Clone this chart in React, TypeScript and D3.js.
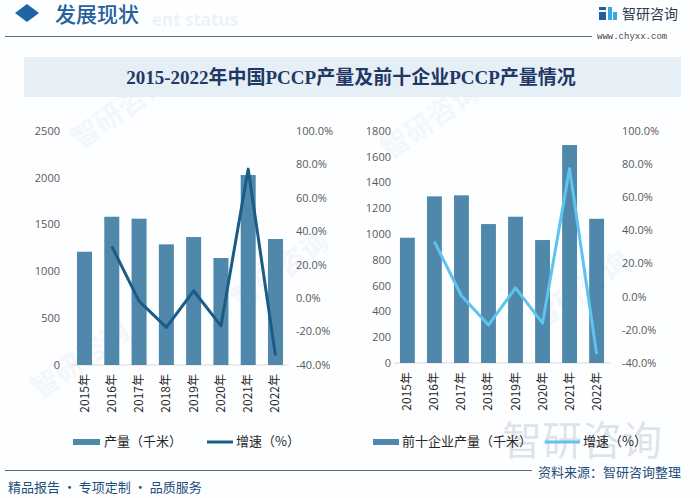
import React from "react";
import * as d3 from "d3";

const years = ["2015年", "2016年", "2017年", "2018年", "2019年", "2020年", "2021年", "2022年"];
const output = [1210, 1584, 1563, 1289, 1367, 1143, 2030, 1346];
const outputGrowth = [null, 31.0, -1.8, -17.5, 4.4, -16.6, 77.2, -34.4];
const top10Output = [972, 1293, 1301, 1078, 1135, 954, 1691, 1119];
const top10Growth = [null, 33.2, 0.6, -17.1, 5.3, -15.9, 77.3, -34.6];
const leftTicks = [0, 500, 1000, 1500, 2000, 2500];
const rightTicks = [0, 200, 400, 600, 800, 1000, 1200, 1400, 1600, 1800];
const pctTicks = [-40, -20, 0, 20, 40, 60, 80, 100];

const BAR = "#5088ab";
const CJK = "'Noto Sans CJK SC', 'Noto Sans', sans-serif";

type PanelProps = {
  x0: number; x1: number; yTop: number; yBot: number;
  values: number[]; growth: (number | null)[]; max: number; ticks: number[];
  leftLabelX: number; rightLabelX: number; lineColor: string;
};

function Panel(p: PanelProps) {
  const x = d3.scaleBand<string>().domain(years).range([p.x0, p.x1]).paddingInner(0.45).paddingOuter(0.22);
  const y = d3.scaleLinear().domain([0, p.max]).range([p.yBot, p.yTop]);
  const yp = d3.scaleLinear().domain([-40, 100]).range([p.yBot, p.yTop]);
  const pts = years.map((yr, i) => ({ yr, v: p.growth[i] })).filter(d => d.v !== null) as { yr: string; v: number }[];
  const line = d3.line<{ yr: string; v: number }>()
    .x(d => (x(d.yr) as number) + x.bandwidth() / 2)
    .y(d => yp(d.v));
  return (
    <g>
      <line x1={p.x0} x2={p.x1} y1={p.yBot} y2={p.yBot} stroke="#d9d9d9" strokeWidth={1} />
      {p.ticks.map(t => (
        <text key={"l" + t} x={p.leftLabelX} y={y(t)} dy="0.35em" textAnchor="end" fontSize={11} fill="#595959" fontFamily="'Open Sans', sans-serif">{t}</text>
      ))}
      {pctTicks.map(t => (
        <text key={"r" + t} x={p.rightLabelX} y={yp(t)} dy="0.35em" textAnchor="start" fontSize={11} fill="#595959" fontFamily="'Open Sans', sans-serif">{t.toFixed(1) + "%"}</text>
      ))}
      {years.map((yr, i) => (
        <rect key={yr} x={x(yr)} y={y(p.values[i])} width={x.bandwidth()} height={p.yBot - y(p.values[i])} fill={BAR} />
      ))}
      <path d={line(pts) || ""} fill="none" stroke={p.lineColor} strokeWidth={3} strokeLinejoin="round" />
      {years.map(yr => (
        <text key={"x" + yr} transform={`translate(${(x(yr) as number) + x.bandwidth() / 2 + 4},${p.yBot + 9}) rotate(-90)`} textAnchor="end" fontSize={12} fill="#262626" fontFamily={CJK}>{yr}</text>
      ))}
    </g>
  );
}

export default function App() {
  return (
    <svg width={700} height={498} style={{ position: "absolute", left: 0, top: 0, background: "#fff" }}>
      <rect width={700} height={498} fill="#fdfeff" />
      {/* faint watermarks */}
      {[[80, 150], [390, 160], [240, 310], [540, 330], [40, 400]].map(([wx, wy], i) => (
        <text key={i} x={wx} y={wy} transform={`rotate(-35 ${wx} ${wy})`} fontSize={28} fontWeight={700} fill="#f3f6fa" fontFamily={CJK}>智研咨询</text>
      ))}
      {/* header */}
      <text x={152} y={26} fontSize={17} fontWeight={700} fill="#eef2f6" fontFamily="'Open Sans', sans-serif">ent status</text>
      <path d="M27,4 L39,13 L27,22 L15,13 Z" fill="#1f64a5" />
      <text x={55} y={22} fontSize={21} fill="#25619c" fontFamily={CJK} fontWeight={500}>发展现状</text>
      <line x1={5} x2={592} y1={36.5} y2={36.5} stroke="#5a6a78" strokeWidth={1} />
      <g>
        <rect x={599} y={7} width={7} height={3} fill="#1f5ea3" />
        <rect x={599} y={12} width={7} height={8} fill="#1f5ea3" />
        <rect x={608} y={7} width={4} height={13} fill="#3aa7e0" />
        <rect x={613} y={12} width={4} height={8} fill="#3aa7e0" />
      </g>
      <text x={622} y={19} fontSize={14} fill="#2f3b4c" fontFamily={CJK}>智研咨询</text>
      <text x={597} y={39} fontSize={9} fill="#444" fontFamily="'Liberation Mono', monospace">www.chyxx.com</text>
      {/* title */}
      <rect x={24} y={57} width={657} height={40} fill="#e6eef6" />
      <text x={351} y={84} textAnchor="middle" fontSize={19} fontWeight={700} fill="#1f3864" fontFamily="'Liberation Serif', 'Noto Sans CJK SC', serif">2015-2022年中国PCCP产量及前十企业PCCP产量情况</text>
      {/* panels */}
      <Panel x0={71} x1={289} yTop={131} yBot={365} values={output} growth={outputGrowth} max={2500} ticks={leftTicks} leftLabelX={60} rightLabelX={296} lineColor="#1b5c86" />
      <Panel x0={394} x1={610} yTop={131} yBot={363} values={top10Output} growth={top10Growth} max={1800} ticks={rightTicks} leftLabelX={391} rightLabelX={622} lineColor="#5ec4ef" />
      {/* big watermark */}
      <text x={502} y={455} fontSize={40} fill="#a7b1bb" fillOpacity={0.35} fontFamily={CJK}>智研咨询</text>
      {/* legends */}
      <rect x={73} y={439} width={27} height={6} fill={BAR} />
      <text x={104} y={446} fontSize={13} fill="#262626" fontFamily={CJK}>产量（千米）</text>
      <line x1={207} x2={233} y1={442} y2={442} stroke="#1b5c86" strokeWidth={3} />
      <text x={236} y={446} fontSize={13} fill="#262626" fontFamily={CJK}>增速（%）</text>
      <rect x={373} y={439} width={26} height={6} fill={BAR} />
      <text x={402} y={446} fontSize={13} fill="#262626" fontFamily={CJK}>前十企业产量（千米）</text>
      <line x1={545} x2={580} y1={442} y2={442} stroke="#5ec4ef" strokeWidth={3} />
      <text x={583} y={446} fontSize={13} fill="#262626" fontFamily={CJK}>增速（%）</text>
      {/* footer */}
      <line x1={5} x2={532} y1={470.5} y2={470.5} stroke="#5a6a78" strokeWidth={1} />
      <text x={538} y={477} fontSize={13} fill="#1f4e79" fontFamily={CJK}>资料来源：智研咨询整理</text>
      <text x={8} y={492} fontSize={13} fill="#1f4e79" fontFamily={CJK}>精品报告 · 专项定制 · 品质服务</text>
    </svg>
  );
}
